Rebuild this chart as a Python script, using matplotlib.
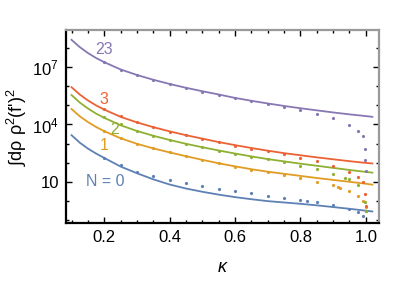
import numpy as np
import matplotlib
matplotlib.use("Agg")
import matplotlib.pyplot as plt
from matplotlib.ticker import FixedLocator, NullFormatter

plt.rcParams['font.family'] = ['Liberation Sans', 'DejaVu Sans']
plt.rcParams['mathtext.fontset'] = 'custom'
plt.rcParams['mathtext.rm'] = 'Liberation Sans'
plt.rcParams['mathtext.it'] = 'Liberation Sans:italic'

# kappa grid for the solid curves
kappa_line = [0.1, 0.125, 0.15, 0.175, 0.2, 0.25, 0.3, 0.35, 0.4, 0.45, 0.5,
              0.55, 0.6, 0.65, 0.7, 0.75, 0.8, 0.85, 0.9, 0.95, 1.0, 1.02]

# log10 of the curves
line_n0 = [3.44, 3.05, 2.74, 2.48, 2.25, 1.80, 1.45, 1.13, 0.86, 0.65, 0.48,
           0.33, 0.20, 0.09, -0.01, -0.08, -0.15, -0.23, -0.32, -0.41, -0.51, -0.55]
line_n1 = [4.81, 4.43, 4.13, 3.87, 3.65, 3.28, 2.99, 2.75, 2.54, 2.34, 2.15,
           1.97, 1.81, 1.66, 1.53, 1.42, 1.31, 1.20, 1.10, 1.00, 0.90, 0.85]
line_n2 = [5.54, 5.15, 4.84, 4.57, 4.35, 3.96, 3.66, 3.41, 3.19, 2.99, 2.81,
           2.64, 2.48, 2.33, 2.19, 2.07, 1.95, 1.84, 1.73, 1.62, 1.52, 1.48]
line_n3 = [5.95, 5.57, 5.26, 5.00, 4.78, 4.40, 4.11, 3.86, 3.64, 3.44, 3.26,
           3.08, 2.92, 2.77, 2.63, 2.50, 2.39, 2.28, 2.18, 2.08, 1.99, 1.96]
line_n23 = [8.43, 8.05, 7.74, 7.48, 7.26, 6.88, 6.59, 6.34, 6.12, 5.92, 5.74,
            5.57, 5.39, 5.24, 5.10, 4.97, 4.85, 4.74, 4.63, 4.53, 4.44, 4.40]

# numerical points (kappa, log10 value)
kappa_pts = [0.2, 0.25, 0.3, 0.35, 0.4, 0.45, 0.5, 0.55, 0.6, 0.65, 0.7,
             0.75, 0.8, 0.85, 0.9]
pts_n0 = [2.26, 1.88, 1.54, 1.31, 1.10, 0.95, 0.78, 0.63, 0.51, 0.39, 0.27,
          0.16, 0.04, -0.07, -0.22]
pts_n1 = [3.65, 3.28, 2.99, 2.75, 2.54, 2.33, 2.14, 1.96, 1.79, 1.63, 1.49,
          1.37, 1.18, 1.00, 0.81]
pts_n2 = [4.37, 4.00, 3.68, 3.42, 3.18, 2.97, 2.80, 2.62, 2.47, 2.31, 2.17,
          2.02, 1.84, 1.65, 1.42]
pts_n3 = [4.79, 4.42, 4.12, 3.86, 3.63, 3.43, 3.24, 3.06, 2.88, 2.73, 2.60,
          2.43, 2.26, 2.08, 1.85]
pts_n23 = [7.26, 6.86, 6.60, 6.34, 6.13, 5.90, 5.71, 5.56, 5.38, 5.22, 5.09,
           4.93, 4.74, 4.54, 4.32]

# extra points close to kappa = 1
tail_k_n0 = [0.82, 0.95, 0.975, 0.99, 1.0]
tail_n0 = [0.005, -0.41, -0.60, -0.81, -0.55]
tail_k_n1 = [0.915, 0.92, 0.95, 0.975, 0.99, 1.0]
tail_n1 = [0.71, 0.68, 0.50, 0.27, -0.01, -0.34]
tail_k_n2 = [0.937, 0.95, 0.975, 0.998, 1.0]
tail_n2 = [1.21, 1.13, 0.83, -0.03, -0.53]
tail_k_n3 = [0.95, 0.975, 0.99, 0.998, 1.0]
tail_n3 = [1.51, 1.25, 0.97, 0.37, -0.24]
tail_k_n23 = [0.95, 0.975, 0.99, 0.997, 0.999, 1.0]
tail_n23 = [3.98, 3.68, 3.39, 2.71, 2.14, 1.58]

labels = ["N = 0", "1", "2", "3", "23"]
colors = ["#5E81B5", "#E19C24", "#8FB032", "#EB6235", "#8778B3"]
label_pos = [(0.203, 10**1.0), (0.2, 10**2.92), (0.232, 10**3.76), (0.2, 10**5.33), (0.2, 10**7.93)]

lines = [line_n0, line_n1, line_n2, line_n3, line_n23]
pts = [pts_n0, pts_n1, pts_n2, pts_n3, pts_n23]
tails_k = [tail_k_n0, tail_k_n1, tail_k_n2, tail_k_n3, tail_k_n23]
tails = [tail_n0, tail_n1, tail_n2, tail_n3, tail_n23]

fig = plt.figure(figsize=(4.15, 2.81), dpi=100)
ax = fig.add_axes([0.159, 0.206, 0.754, 0.687])

for i in range(5):
    ax.plot(kappa_line, 10**np.array(lines[i]), color=colors[i], lw=1.3)
    xs = kappa_pts + tails_k[i]
    ys = 10**np.array(pts[i] + tails[i])
    ax.plot(xs, ys, ls='none', marker='o', ms=2.3, mew=0, color=colors[i])
    ax.text(label_pos[i][0], label_pos[i][1], labels[i], color=colors[i],
            fontsize=11.5, ha='center', va='center')

ax.set_yscale('log')
ax.set_xlim(0.083, 1.04)
ax.set_ylim(10**-1.16, 10**8.94)

ax.xaxis.set_major_locator(FixedLocator([0.2, 0.4, 0.6, 0.8, 1.0]))
ax.set_xticklabels(["0.2", "0.4", "0.6", "0.8", "1.0"])
ax.xaxis.set_minor_locator(FixedLocator(np.arange(0.1, 1.05, 0.05)))
ax.yaxis.set_major_locator(FixedLocator([10, 1e4, 1e7]))
ax.set_yticklabels(["10", "10$^4$", "10$^7$"])
ax.yaxis.set_minor_locator(FixedLocator([10.0**k for k in range(-1, 9)]))
ax.yaxis.set_minor_formatter(NullFormatter())

ax.tick_params(which='both', direction='in', top=True, right=True,
               labelsize=12, color='black', width=1.0)
ax.tick_params(which='major', length=4, pad=5)
ax.tick_params(which='minor', length=2.5)

for s in ['left', 'bottom']:
    ax.spines[s].set_linewidth(1.6)
    ax.spines[s].set_color('black')
for s in ['top', 'right']:
    ax.spines[s].set_linewidth(1.6)
    ax.spines[s].set_color('#9a9a9a')

ax.set_xlabel("$\\mathit{\\kappa}$", fontsize=13, labelpad=10)
ax.set_ylabel("∫dρ ρ$^2$(f')$^2$", fontsize=13, labelpad=2)

fig.savefig("out.png", dpi=100)
